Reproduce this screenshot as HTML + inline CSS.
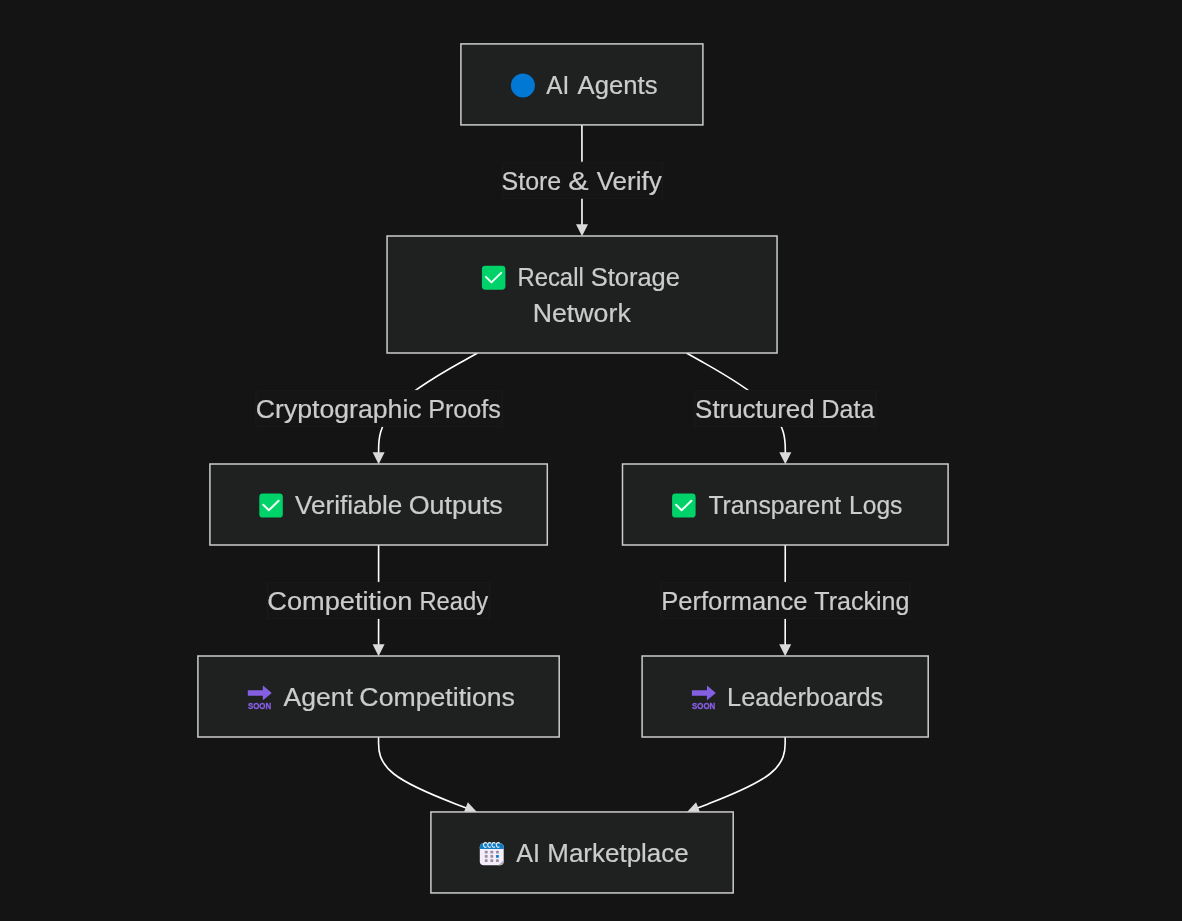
<!DOCTYPE html>
<html lang="en">
<head>
<meta charset="utf-8">
<title>Recall Storage Network flow</title>
<style>
html,body{margin:0;padding:0;background:#141414;}
body{width:1182px;height:921px;overflow:hidden;font-family:"Liberation Sans", sans-serif;}
svg{display:block;position:absolute;left:0;top:0;will-change:transform;}
</style>
</head>
<body>
<svg width="1182" height="921" viewBox="0 0 1182 921" role="img" aria-label="Flowchart: AI Agents to Recall Storage Network to AI Marketplace">
<rect width="1182" height="921" fill="#141414"/>
<g class="edges">
<path d="M581.92,124.90L581.93,134.12C581.93,143.33 581.94,161.77 581.95,179.28C581.96,196.80 581.98,213.40 581.99,221.70L581.99,230.00" fill="none" stroke="#ffffff" stroke-width="1.6"/>
<polygon points="582.00,236.30 575.99,224.31 587.99,224.29" fill="#dadada"/>
<path d="M477.56,353.00L461.06,362.23C444.57,371.47 411.59,389.93 395.09,407.43C378.60,424.93 378.60,441.47 378.60,449.73L378.60,458.00" fill="none" stroke="#ffffff" stroke-width="1.6"/>
<polygon points="378.60,464.30 372.60,452.30 384.60,452.30" fill="#dadada"/>
<path d="M686.44,353.00L702.92,362.23C719.39,371.47 752.35,389.93 768.82,407.43C785.30,424.93 785.30,441.47 785.30,449.73L785.30,458.00" fill="none" stroke="#ffffff" stroke-width="1.6"/>
<polygon points="785.30,464.30 779.30,452.30 791.30,452.30" fill="#dadada"/>
<path d="M378.60,545.00L378.60,554.23C378.60,563.47 378.60,581.93 378.60,599.43C378.59,616.93 378.58,633.47 378.58,641.73L378.57,650.00" fill="none" stroke="#ffffff" stroke-width="1.6"/>
<polygon points="378.57,656.30 372.58,644.30 384.58,644.30" fill="#dadada"/>
<path d="M785.26,545.00L785.25,554.23C785.24,563.47 785.22,581.93 785.21,599.43C785.19,616.93 785.18,633.47 785.18,641.73L785.17,650.00" fill="none" stroke="#ffffff" stroke-width="1.6"/>
<polygon points="785.17,656.30 779.18,644.30 791.18,644.30" fill="#dadada"/>
<path d="M378.55,737.00L378.55,743.22C378.55,749.43 378.55,761.87 393.96,774.00C409.36,786.13 440.18,797.97 455.58,803.88L470.99,809.80" fill="none" stroke="#ffffff" stroke-width="1.6"/>
<polygon points="476.87,812.06 463.52,813.36 467.82,802.15" fill="#dadada"/>
<path d="M785.15,737.00L785.15,743.22C785.15,749.43 785.15,761.87 769.78,774.00C754.40,786.13 723.65,797.96 708.28,803.88L692.90,809.80" fill="none" stroke="#ffffff" stroke-width="1.6"/>
<polygon points="687.02,812.06 696.07,802.15 700.38,813.35" fill="#dadada"/>
</g>
<g class="edge-labels" font-family="'Liberation Sans', sans-serif" font-size="25" fill="#cccccc" stroke="#cccccc" stroke-width="0.2">
<rect x="502.50" y="162.20" width="160.00" height="36.00" fill="#151515" stroke="#1a1a1a" stroke-width="1"/>
<text y="189.90"><tspan x="501.58" textLength="59.68" lengthAdjust="spacingAndGlyphs">Store</tspan> <tspan x="568.24" textLength="20.36" lengthAdjust="spacingAndGlyphs">&amp;</tspan> <tspan x="596.71" textLength="65.03" lengthAdjust="spacingAndGlyphs">Verify</tspan></text>
<rect x="256.00" y="390.40" width="246.50" height="36.00" fill="#151515" stroke="#1a1a1a" stroke-width="1"/>
<text y="418.10"><tspan x="255.80" textLength="165.89" lengthAdjust="spacingAndGlyphs">Cryptographic</tspan> <tspan x="428.17" textLength="72.82" lengthAdjust="spacingAndGlyphs">Proofs</tspan></text>
<rect x="695.00" y="390.40" width="181.00" height="36.00" fill="#151515" stroke="#1a1a1a" stroke-width="1"/>
<text y="418.10"><tspan x="695.14" textLength="119.49" lengthAdjust="spacingAndGlyphs">Structured</tspan> <tspan x="821.58" textLength="52.78" lengthAdjust="spacingAndGlyphs">Data</tspan></text>
<rect x="267.50" y="582.40" width="222.00" height="36.00" fill="#151515" stroke="#1a1a1a" stroke-width="1"/>
<text y="610.10"><tspan x="267.32" textLength="145.11" lengthAdjust="spacingAndGlyphs">Competition</tspan> <tspan x="419.40" textLength="68.76" lengthAdjust="spacingAndGlyphs">Ready</tspan></text>
<rect x="661.00" y="582.40" width="249.00" height="36.00" fill="#151515" stroke="#1a1a1a" stroke-width="1"/>
<text y="610.10"><tspan x="661.15" textLength="146.31" lengthAdjust="spacingAndGlyphs">Performance</tspan> <tspan x="814.29" textLength="95.24" lengthAdjust="spacingAndGlyphs">Tracking</tspan></text>
</g>
<g class="nodes">
<rect x="460.90" y="43.90" width="242.00" height="81.00" fill="#1f2020" stroke="#cccccc" stroke-width="1.5"/>
<rect x="387.05" y="236.00" width="390.00" height="117.00" fill="#1f2020" stroke="#cccccc" stroke-width="1.5"/>
<rect x="209.90" y="464.00" width="337.40" height="81.00" fill="#1f2020" stroke="#cccccc" stroke-width="1.5"/>
<rect x="622.50" y="464.00" width="325.60" height="81.00" fill="#1f2020" stroke="#cccccc" stroke-width="1.5"/>
<rect x="197.90" y="656.00" width="361.30" height="81.00" fill="#1f2020" stroke="#cccccc" stroke-width="1.5"/>
<rect x="642.10" y="656.00" width="286.10" height="81.00" fill="#1f2020" stroke="#cccccc" stroke-width="1.5"/>
<rect x="430.90" y="811.95" width="302.30" height="81.00" fill="#1f2020" stroke="#cccccc" stroke-width="1.5"/>
</g>
<g class="node-labels" font-family="'Liberation Sans', sans-serif" font-size="25" fill="#cccccc" stroke="#cccccc" stroke-width="0.2">
<text y="94.10"><tspan x="546.20" textLength="23.01" lengthAdjust="spacingAndGlyphs">AI</tspan> <tspan x="577.62" textLength="79.93" lengthAdjust="spacingAndGlyphs">Agents</tspan></text>
<text y="286.20"><tspan x="517.43" textLength="66.34" lengthAdjust="spacingAndGlyphs">Recall</tspan> <tspan x="590.78" textLength="89.15" lengthAdjust="spacingAndGlyphs">Storage</tspan></text>
<text y="322.20"><tspan x="532.69" textLength="98.06" lengthAdjust="spacingAndGlyphs">Network</tspan></text>
<text y="514.20"><tspan x="295.05" textLength="107.33" lengthAdjust="spacingAndGlyphs">Verifiable</tspan> <tspan x="408.70" textLength="94.14" lengthAdjust="spacingAndGlyphs">Outputs</tspan></text>
<text y="514.20"><tspan x="708.39" textLength="132.69" lengthAdjust="spacingAndGlyphs">Transparent</tspan> <tspan x="849.06" textLength="53.38" lengthAdjust="spacingAndGlyphs">Logs</tspan></text>
<text y="706.20"><tspan x="283.60" textLength="69.44" lengthAdjust="spacingAndGlyphs">Agent</tspan> <tspan x="359.38" textLength="155.58" lengthAdjust="spacingAndGlyphs">Competitions</tspan></text>
<text y="706.20"><tspan x="727.05" textLength="156.24" lengthAdjust="spacingAndGlyphs">Leaderboards</tspan></text>
<text y="862.15"><tspan x="516.31" textLength="23.75" lengthAdjust="spacingAndGlyphs">AI</tspan> <tspan x="547.30" textLength="141.40" lengthAdjust="spacingAndGlyphs">Marketplace</tspan></text>
</g>
<g class="icons">
<g role="img" aria-label="🔵"><circle cx="522.90" cy="85.60" r="12.0" fill="#0078d4"/></g>
<g role="img" aria-label="✅" transform="translate(481.90,265.70)"><rect width="23.5" height="24.0" rx="3.4" fill="#00d26a"/><path d="M4.0,11.2 L9.5,16.7 L19.3,7.2" fill="none" stroke="#f0fff6" stroke-width="2.0" stroke-linecap="round" stroke-linejoin="round"/></g>
<g role="img" aria-label="✅" transform="translate(259.30,493.60)"><rect width="23.5" height="24.0" rx="3.4" fill="#00d26a"/><path d="M4.0,11.2 L9.5,16.7 L19.3,7.2" fill="none" stroke="#f0fff6" stroke-width="2.0" stroke-linecap="round" stroke-linejoin="round"/></g>
<g role="img" aria-label="✅" transform="translate(672.10,493.60)"><rect width="23.5" height="24.0" rx="3.4" fill="#00d26a"/><path d="M4.0,11.2 L9.5,16.7 L19.3,7.2" fill="none" stroke="#f0fff6" stroke-width="2.0" stroke-linecap="round" stroke-linejoin="round"/></g>
<g role="img" aria-label="🔜" transform="translate(247.80,685.80)"><path d="M0,4.5 H15 V0.6 Q15,-0.3 15.8,0.3 L23.4,6.6 Q23.9,7.1 23.4,7.6 L15.8,13.9 Q15,14.5 15,13.6 V10 H0 Z" fill="#845fe2"/><text x="0.1" y="23.3" font-family="'Liberation Sans', sans-serif" font-weight="bold" font-size="9.6" fill="#845fe2" stroke="#845fe2" stroke-width="0.35" textLength="23.3" lengthAdjust="spacingAndGlyphs">SOON</text></g>
<g role="img" aria-label="🔜" transform="translate(691.90,685.80)"><path d="M0,4.5 H15 V0.6 Q15,-0.3 15.8,0.3 L23.4,6.6 Q23.9,7.1 23.4,7.6 L15.8,13.9 Q15,14.5 15,13.6 V10 H0 Z" fill="#845fe2"/><text x="0.1" y="23.3" font-family="'Liberation Sans', sans-serif" font-weight="bold" font-size="9.6" fill="#845fe2" stroke="#845fe2" stroke-width="0.35" textLength="23.3" lengthAdjust="spacingAndGlyphs">SOON</text></g>
<g role="img" aria-label="🗓" transform="translate(479.80,841.70)"><rect x="0" y="1.6" width="23.9" height="22.0" rx="4" fill="#f3eef8"/><path d="M0,7.2 V5.6 Q0,1.6 4,1.6 H19.9 Q23.9,1.6 23.9,5.6 V7.2 Z" fill="#0f7cc6"/><path d="M18.6,23.6 L23.9,18.3 V19.6 Q23.9,23.6 19.9,23.6 Z" fill="#b4acbc"/><rect x="5.0" y="9.0" width="2.8" height="2.8" rx="0.5" fill="#998ea4"/><rect x="5.0" y="13.3" width="2.8" height="2.8" rx="0.5" fill="#998ea4"/><rect x="5.0" y="17.6" width="2.8" height="2.8" rx="0.5" fill="#998ea4"/><rect x="10.6" y="9.0" width="2.8" height="2.8" rx="0.5" fill="#998ea4"/><rect x="10.6" y="13.3" width="2.8" height="2.8" rx="0.5" fill="#998ea4"/><rect x="10.6" y="17.6" width="2.8" height="2.8" rx="0.5" fill="#998ea4"/><rect x="16.2" y="9.0" width="2.8" height="2.8" rx="0.5" fill="#998ea4"/><rect x="16.2" y="13.3" width="2.8" height="2.8" rx="0.5" fill="#0f7cc6"/><rect x="16.2" y="17.6" width="2.8" height="2.8" rx="0.5" fill="#998ea4"/><path d="M6.80,1.3 A1.9,2.4 0 1 0 6.50,5.3" fill="none" stroke="#eef7ff" stroke-width="1.1" stroke-linecap="round"/><path d="M11.00,1.3 A1.9,2.4 0 1 0 10.70,5.3" fill="none" stroke="#eef7ff" stroke-width="1.1" stroke-linecap="round"/><path d="M15.20,1.3 A1.9,2.4 0 1 0 14.90,5.3" fill="none" stroke="#eef7ff" stroke-width="1.1" stroke-linecap="round"/><path d="M19.60,1.3 A1.9,2.4 0 1 0 19.30,5.3" fill="none" stroke="#eef7ff" stroke-width="1.1" stroke-linecap="round"/></g>
</g>
</svg>
</body>
</html>
